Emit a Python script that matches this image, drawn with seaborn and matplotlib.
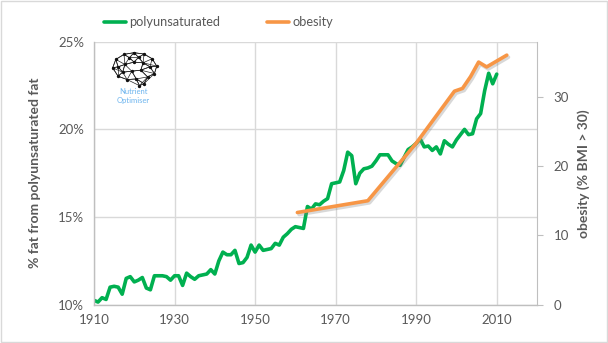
import numpy as np
import pandas as pd
import matplotlib
matplotlib.use("Agg")
import matplotlib.pyplot as plt
import matplotlib.patheffects as pe
from matplotlib.patches import Rectangle
import seaborn as sns

# ---------------- data ----------------
poly_values = [
    10.25, 10.15, 10.40, 10.30, 11.00, 11.05, 11.00, 10.60, 11.50, 11.60,
    11.30, 11.40, 11.55, 10.95, 10.85, 11.65, 11.65, 11.65, 11.60, 11.40,
    11.65, 11.65, 11.10, 11.80, 11.60, 11.45, 11.65, 11.70, 11.75, 12.00,
    11.75, 12.50, 13.00, 12.85, 12.85, 13.10, 12.35, 12.40, 12.70, 13.40,
    13.00, 13.40, 13.10, 13.15, 13.20, 13.50, 13.40, 13.85, 14.05, 14.30,
    14.45, 14.40, 14.35, 15.60, 15.45, 15.75, 15.70, 15.90, 16.05, 16.90,
    16.95, 17.00, 17.65, 18.70, 18.50, 16.90, 17.50, 17.75, 17.80, 17.90,
    18.20, 18.55, 18.55, 18.55, 18.20, 18.05, 17.95, 18.40, 18.85, 19.00,
    19.20, 19.45, 19.00, 19.05, 18.80, 19.00, 18.60, 19.35, 19.15, 19.00,
    19.40, 19.70, 20.00, 19.70, 19.75, 20.60, 20.90, 22.20, 23.20, 22.60, 23.15,
]
poly_years = list(range(1910, 1910 + len(poly_values)))

obesity_years = [1960.5, 1978, 1990, 1999.5, 2001.5, 2003.5, 2005.5, 2007.5, 2012.5]
obesity_values = [13.3, 15.0, 23.3, 30.8, 31.2, 32.9, 35.0, 34.3, 36.0]

x_ticks = [1910, 1930, 1950, 1970, 1990, 2010]
left_ticks = [10, 15, 20, 25]
right_ticks = [0, 10, 20, 30]

GREEN = "#00B050"
ORANGE = "#F79646"
GRID = "#D9D9D9"
TEXT = "#595959"

# ---------------- figure ----------------
sns.set_style("white")
plt.rcParams["font.family"] = ["Lato", "DejaVu Sans"]

fig = plt.figure(figsize=(6.08, 3.43), dpi=100)
ax = fig.add_axes([94 / 608, 1 - 304.7 / 343, (537 - 94) / 608, (304.7 - 41.7) / 343])

df_poly = pd.DataFrame({"year": poly_years, "poly": poly_values})
df_ob = pd.DataFrame({"year": obesity_years, "obesity": obesity_values})

sns.lineplot(data=df_poly, x="year", y="poly", ax=ax, color=GREEN, linewidth=2.6,
             label="polyunsaturated", legend=False)
ax.set_xlim(1910, 2020)
ax.set_ylim(10, 25)
ax.set_xticks(x_ticks)
ax.set_yticks(left_ticks)
ax.set_yticklabels([f"{v}%" for v in left_ticks])
ax.grid(True, color=GRID, linewidth=1)
ax.set_axisbelow(True)
ax.tick_params(axis="both", length=0, labelsize=9.5, labelcolor=TEXT, pad=7)
ax.set_xlabel("")
ax.set_ylabel("% fat from polyunsaturated fat", fontsize=10, fontweight="bold",
              color=TEXT, labelpad=12)
for s in ["top", "right"]:
    ax.spines[s].set_visible(False)
for s in ["left", "bottom"]:
    ax.spines[s].set_color("#BFBFBF")
    ax.spines[s].set_linewidth(1)

ax2 = ax.twinx()
sns.lineplot(data=df_ob, x="year", y="obesity", ax=ax2, color=ORANGE, linewidth=2.6,
             label="obesity", legend=False)
ax2.lines[0].set_path_effects([
    pe.SimpleLineShadow(offset=(1.2, -1.5), shadow_color="#7F7F7F", alpha=0.3),
    pe.Normal(),
])
ax2.set_ylim(0, 37.94)
ax2.set_yticks(right_ticks)
ax2.tick_params(axis="y", length=4, color="#BFBFBF", labelsize=9.5, labelcolor=TEXT, pad=8)
ax2.set_ylabel("obesity (% BMI > 30)", fontsize=10, fontweight="bold", color=TEXT,
               labelpad=6)
for s in ["top", "left", "bottom"]:
    ax2.spines[s].set_visible(False)
ax2.spines["right"].set_color("#BFBFBF")
ax2.grid(False)

# legend (two entries placed like the reference)
leg_kw = dict(loc="center left", frameon=False, fontsize=9.2, handlelength=1.75,
              handletextpad=0.25, borderpad=0, borderaxespad=0)
leg1 = fig.legend([ax.get_lines()[0]], ["polyunsaturated"],
                  bbox_to_anchor=(104 / 608, 1 - 22 / 343), **leg_kw)
leg2 = fig.legend([ax2.get_lines()[0]], ["obesity"],
                  bbox_to_anchor=(267 / 608, 1 - 22 / 343), **leg_kw)
for lg in (leg1, leg2):
    for t in lg.get_texts():
        t.set_color(TEXT)
    for h in lg.legend_handles:
        h.set_path_effects([])

# logo (brain network + text)
lax = fig.add_axes([109 / 608, 1 - 88 / 343, 50 / 608, 37 / 343])
lax.set_axis_off()
pts = np.array([
    [0.03, 0.55], [0.10, 0.80], [0.28, 0.95], [0.50, 1.00], [0.72, 0.96],
    [0.90, 0.82], [1.00, 0.60], [0.95, 0.38], [0.80, 0.28], [0.72, 0.08],
    [0.62, 0.02], [0.55, 0.22], [0.35, 0.20], [0.15, 0.30], [0.30, 0.65],
    [0.50, 0.72], [0.70, 0.70], [0.45, 0.45], [0.65, 0.48], [0.25, 0.42],
    [0.85, 0.58], [0.15, 0.58], [0.40, 0.85], [0.60, 0.86],
])
for i, p in enumerate(pts):
    d = np.hypot(*(pts - p).T)
    for j in np.argsort(d)[1:5]:
        lax.plot([p[0], pts[j][0]], [p[1], pts[j][1]], color="#222222", lw=0.5)
lax.scatter(pts[:, 0], pts[:, 1], s=2, color="#111111", zorder=3)
lax.set_xlim(-0.05, 1.05)
lax.set_ylim(-0.05, 1.05)
fig.text(133 / 608, 1 - 92 / 343, "Nutrient", ha="center", va="center",
         fontsize=5.5, color="#6CB4EE")
fig.text(133 / 608, 1 - 101 / 343, "Optimiser", ha="center", va="center",
         fontsize=5.5, color="#6CB4EE")

# outer border
fig.patches.append(Rectangle((0.001, 0.002), 0.997, 0.995, transform=fig.transFigure,
                             fill=False, edgecolor="#D9D9D9", linewidth=1))

fig.savefig("out.png", dpi=100)
